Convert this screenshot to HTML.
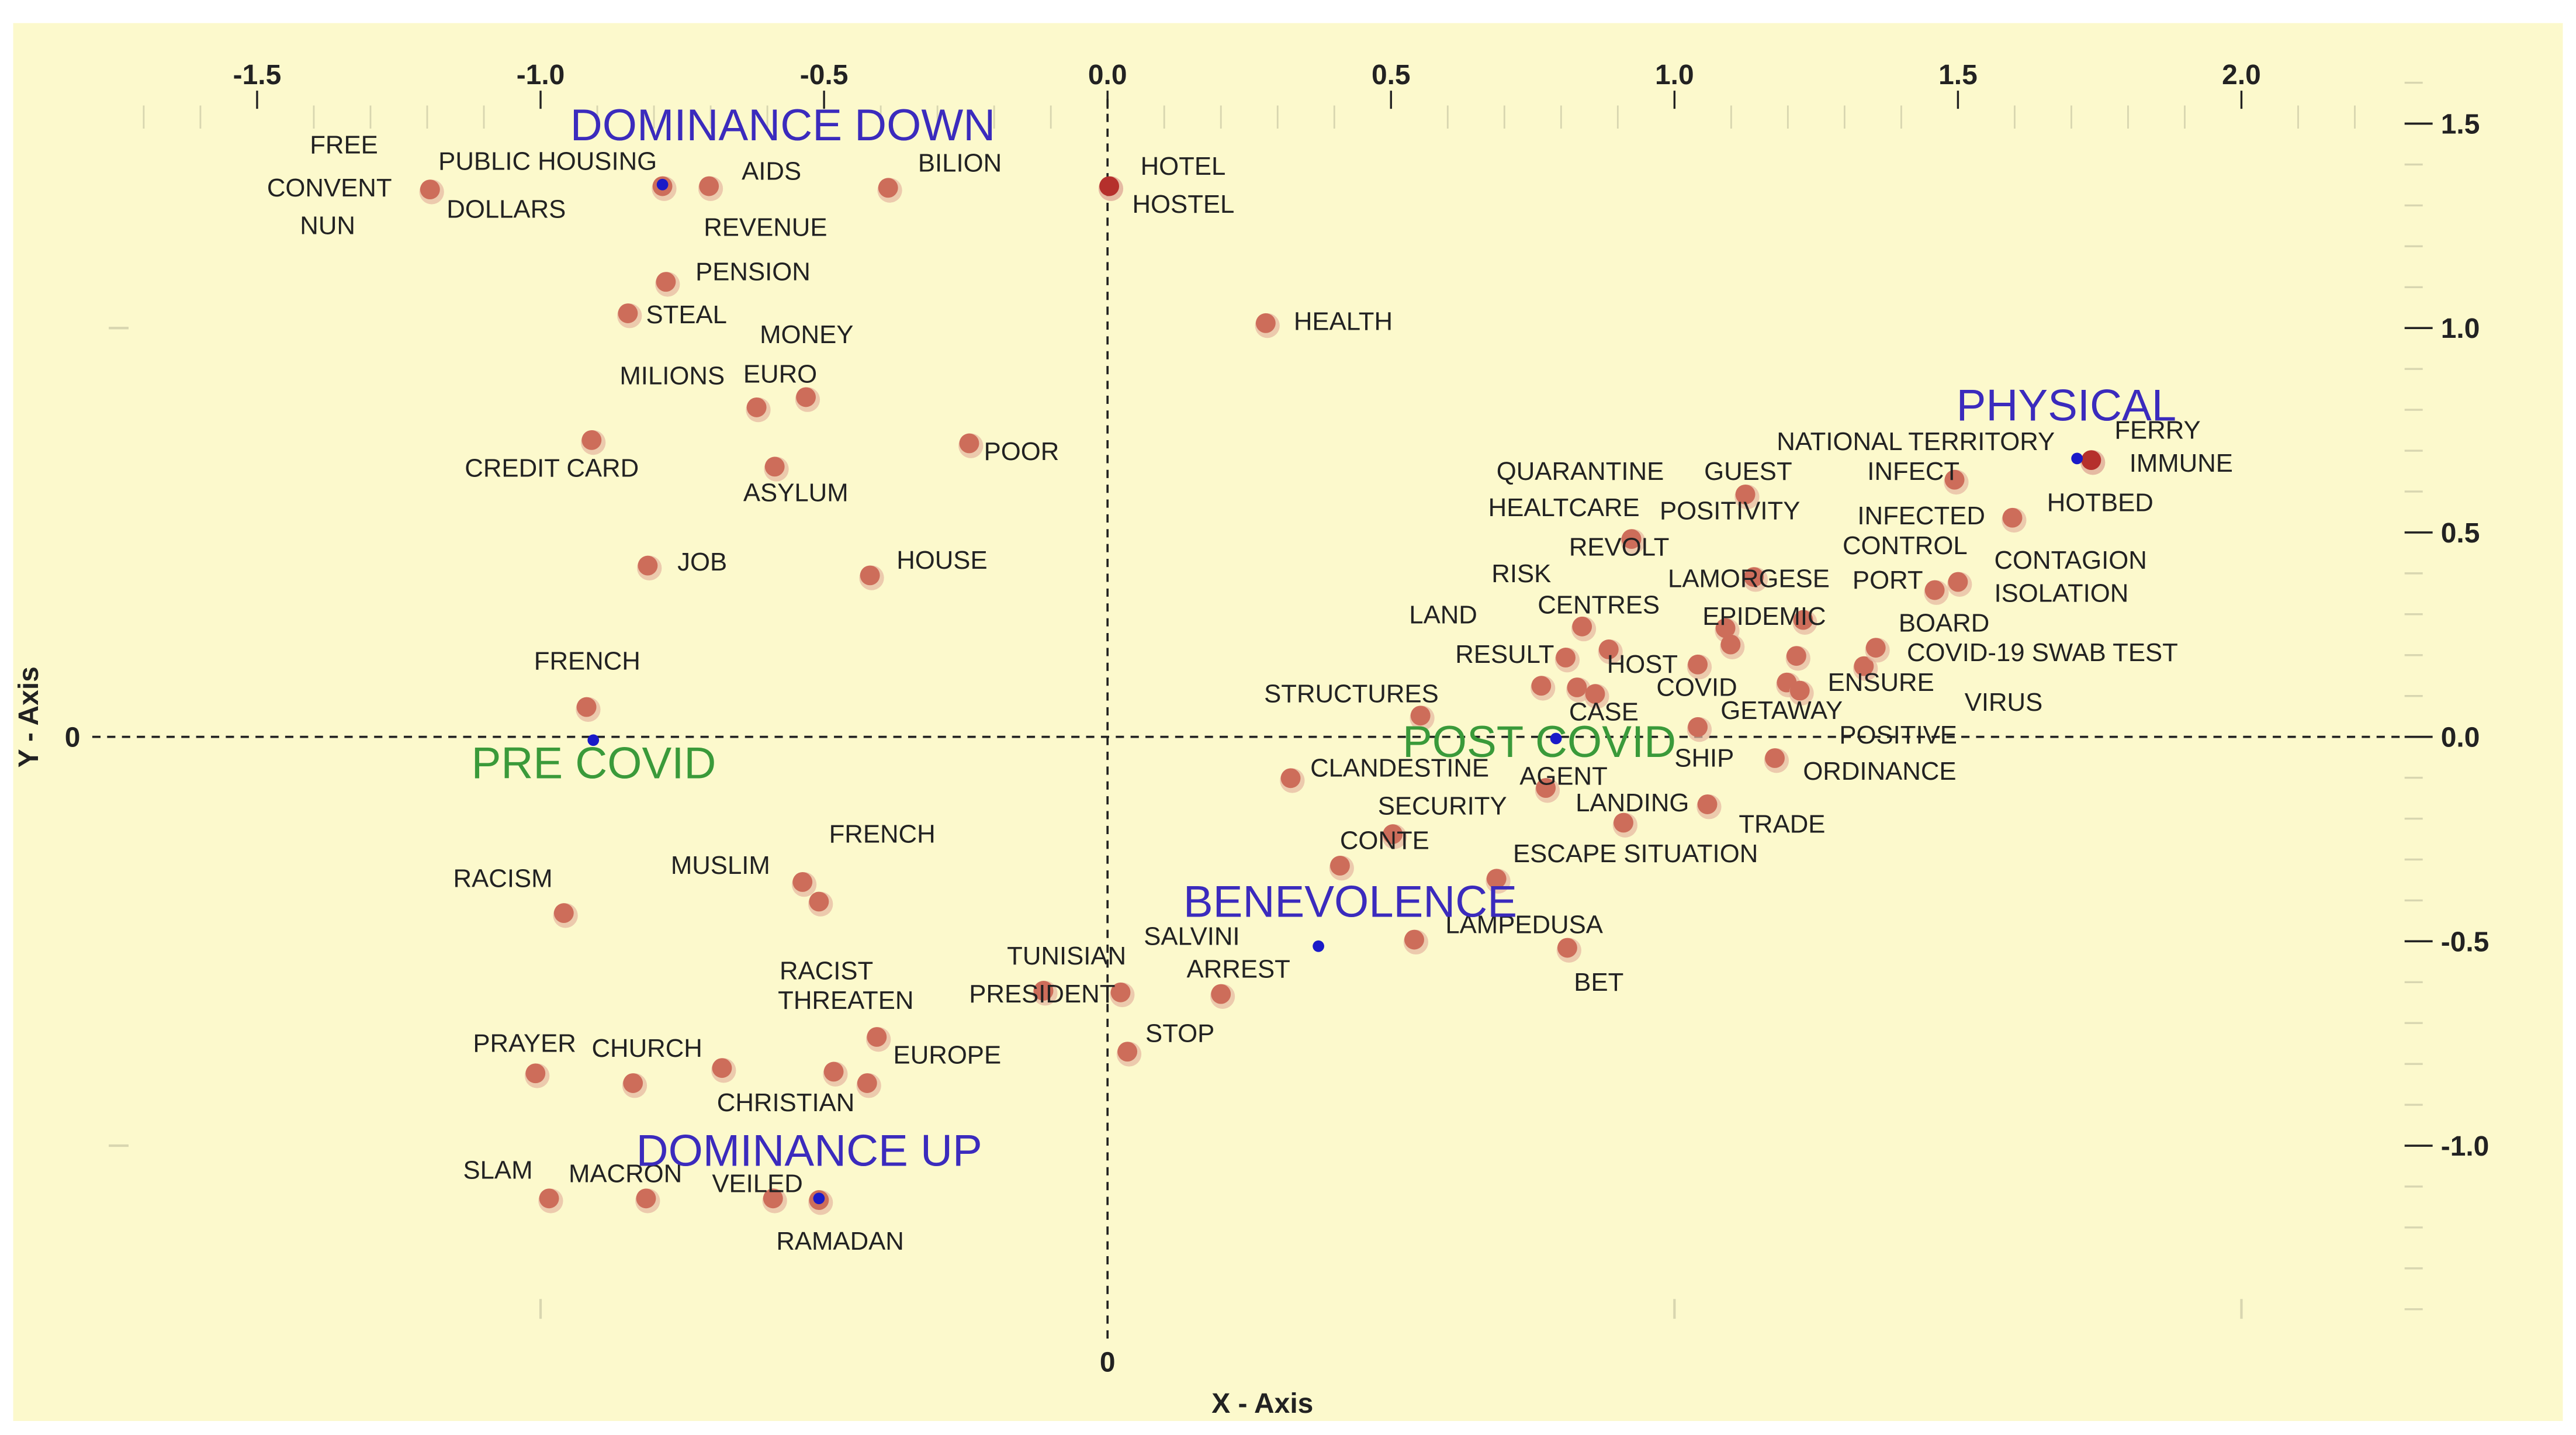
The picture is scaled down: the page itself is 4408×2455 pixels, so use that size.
<!DOCTYPE html>
<html><head><meta charset="utf-8"><style>
html,body{margin:0;padding:0;background:#fff;}
svg{display:block;}
text{font-family:"Liberation Sans",sans-serif;}
</style></head><body>
<svg id="chart" width="4408" height="2455" viewBox="0 0 1563 870.5" xmlns="http://www.w3.org/2000/svg">
<rect x="8" y="14" width="1547" height="848" fill="#fcf9cc"/>
<g id="axes"></g>
<g id="marks"></g>
<g id="labels"></g>
</svg>
<script>
const xTicks=[-1.5,-1.0,-0.5,0.0,0.5,1.0,1.5,2.0];
const xTickLabels=["-1.5","-1.0","-0.5","0.0","0.5","1.0","1.5","2.0"];
const yTicks=[1.5,1.0,0.5,0.0,-0.5,-1.0];
const yTickLabels=["1.5","1.0","0.5","0.0","-0.5","-1.0"];
const pointX=[-1.195,-0.785,-0.703,-0.387,0.003,-0.779,-0.846,-0.619,-0.532,-0.91,-0.587,-0.244,-0.811,-0.419,0.279,-0.919,-0.959,-0.538,-0.509,-0.407,-0.483,-0.424,-1.009,-0.837,-0.68,-0.985,-0.814,-0.59,-0.509,-0.113,0.023,0.035,0.2,0.541,0.811,0.686,0.41,0.503,0.323,0.773,0.91,1.058,1.177,1.041,0.552,0.828,0.86,0.765,0.808,0.884,0.837,0.924,1.125,1.041,1.09,1.099,1.14,1.198,1.221,1.215,1.227,1.334,1.355,1.459,1.5,1.494,1.596,1.735];
const pointY=[1.339,1.347,1.347,1.343,1.347,1.113,1.036,0.806,0.831,0.726,0.661,0.718,0.419,0.395,1.012,0.073,-0.431,-0.355,-0.403,-0.734,-0.819,-0.847,-0.823,-0.847,-0.81,-1.129,-1.129,-1.129,-1.133,-0.621,-0.625,-0.77,-0.629,-0.496,-0.516,-0.347,-0.315,-0.238,-0.101,-0.125,-0.21,-0.165,-0.052,0.024,0.052,0.121,0.105,0.125,0.194,0.214,0.27,0.484,0.593,0.177,0.266,0.226,0.391,0.133,0.113,0.198,0.286,0.173,0.218,0.359,0.379,0.629,0.536,0.677];
const darkPoints=[4,67];
const centroidNames=["DOMINANCE DOWN","PRE COVID","DOMINANCE UP","BENEVOLENCE","POST COVID","PHYSICAL"];
const centroidX=[-0.785,-0.907,-0.509,0.372,0.791,1.71];
const centroidY=[1.351,-0.008,-1.129,-0.512,-0.004,0.681];
const wordLabels=[["FREE",188,89],["CONVENT",162,115],["NUN",182,138],["PUBLIC HOUSING",266,99],["DOLLARS",271,128],["AIDS",450,105],["REVENUE",427,139],["BILION",557,100],["HOTEL",692,102],["HOSTEL",687,125],["PENSION",422,166],["STEAL",392,192],["MONEY",461,204],["EURO",451,228],["MILIONS",376,229],["CREDIT CARD",282,285],["ASYLUM",451,300],["POOR",597,275],["JOB",411,342],["HOUSE",544,341],["HEALTH",785,196],["FRENCH",324,402],["RACISM",275,534],["MUSLIM",407,526],["FRENCH",503,507],["RACIST",473,590],["THREATEN",472,608],["EUROPE",542,641],["CHRISTIAN",435,670],["PRAYER",287,634],["CHURCH",359,637],["SLAM",281,711],["MACRON",345,713],["VEILED",432,719],["RAMADAN",471,754],["TUNISIAN",611,581],["PRESIDENT",588,604],["SALVINI",694,569],["STOP",695,628],["ARREST",720,589],["LAMPEDUSA",877,562],["BET",955,597],["ESCAPE SITUATION",918,519],["CONTE",813,511],["SECURITY",836,490],["CLANDESTINE",795,467],["AGENT",922,472],["LANDING",956,488],["TRADE",1055,501],["ORDINANCE",1094,469],["SHIP",1016,461],["STRUCTURES",767,422],["CASE",952,433],["RESULT",883,398],["LAND",855,374],["HOST",975,404],["RISK",905,349],["CENTRES",933,368],["REVOLT",952,333],["QUARANTINE",908,287],["HEALTCARE",903,309],["GUEST",1034,287],["POSITIVITY",1007,311],["COVID",1005,418],["EPIDEMIC",1033,375],["LAMORGESE",1012,352],["GETAWAY",1044,432],["POSITIVE",1116,447],["ENSURE",1109,415],["BOARD",1152,379],["COVID-19 SWAB TEST",1157,397],["VIRUS",1192,427],["CONTROL",1118,332],["INFECTED",1127,314],["PORT",1124,353],["CONTAGION",1210,341],["ISOLATION",1210,361],["INFECT",1133,287],["NATIONAL TERRITORY",1078,269],["HOTBED",1242,306],["FERRY",1283,262],["IMMUNE",1292,282]];
const bigLabels=[["DOMINANCE DOWN",346,78,"#3b2bbd"],["PRE COVID",286,465,"#3a9a3a"],["DOMINANCE UP",386,700,"#3b2bbd"],["BENEVOLENCE",718,549,"#3b2bbd"],["POST COVID",851,452,"#3a9a3a"],["PHYSICAL",1187,248,"#3b2bbd"]];

const NS="http://www.w3.org/2000/svg";
function sx(v){return 672+344*v;}
function sy(v){return 447-248*v;}
function mk(tag,attrs,parent){const e=document.createElementNS(NS,tag);for(const k in attrs)e.setAttribute(k,attrs[k]);parent.appendChild(e);return e;}
const axes=document.getElementById('axes'),marks=document.getElementById('marks'),labels=document.getElementById('labels');

// minor ticks top and right
for(let i=-17;i<=22;i++){const v=i/10;if(Math.abs(v*2-Math.round(v*2))<1e-6)continue;
 const t=mk('line',{x1:sx(v),x2:sx(v),y1:64,y2:78,stroke:'#d8d6b0','stroke-width':1},axes);
 }
for(let i=-14;i<=16;i++){const v=i/10;if(Math.abs(v*2-Math.round(v*2))<1e-6)continue;
 const t=mk('line',{x1:1459,x2:1470,y1:sy(v),y2:sy(v),stroke:'#d8d6b0','stroke-width':1.2},axes);
 }
xTicks.forEach((v,i)=>{
 const t=mk('line',{x1:sx(v),x2:sx(v),y1:55,y2:66,stroke:'#222','stroke-width':1.2},axes);
 
 const l=mk('text',{x:sx(v),y:51,'text-anchor':'middle','font-size':17,'font-weight':'bold',fill:'#222'},axes);
 l.textContent=xTickLabels[i];
 });
yTicks.forEach((v,i)=>{
 const t=mk('line',{x1:1459,x2:1476,y1:sy(v),y2:sy(v),stroke:'#222','stroke-width':1.3},axes);
 
 const l=mk('text',{x:1481,y:sy(v)+6,'font-size':17,'font-weight':'bold',fill:'#222'},axes);
 l.textContent=yTickLabels[i];
 });
// faint inner ticks
[-1,1,2].forEach(v=>{const t=mk('line',{x1:sx(v),x2:sx(v),y1:788,y2:800,stroke:'#d8d6b0','stroke-width':1.5},axes);
 });
[1,-1].forEach(v=>{const t=mk('line',{x1:66,x2:78,y1:sy(v),y2:sy(v),stroke:'#d8d6b0','stroke-width':1.5},axes);
 });
// dashed zero lines
let hz=mk('line',{x1:56,x2:1460,y1:sy(0),y2:sy(0),stroke:'#222','stroke-width':1.3,'stroke-dasharray':'5,4'},axes);

let vz=mk('line',{x1:sx(0),x2:sx(0),y1:60,y2:815,stroke:'#222','stroke-width':1.3,'stroke-dasharray':'5,4'},axes);

let z1=mk('text',{x:44,y:sy(0)+6,'text-anchor':'middle','font-size':17,'font-weight':'bold',fill:'#222'},axes);z1.textContent='0';

let z2=mk('text',{x:sx(0),y:832,'text-anchor':'middle','font-size':17,'font-weight':'bold',fill:'#222'},axes);z2.textContent='0';

let xt=mk('text',{x:766,y:857,'text-anchor':'middle','font-size':17,'font-weight':'bold',fill:'#222'},axes);xt.textContent='X - Axis';

let yt=mk('text',{x:0,y:0,'text-anchor':'middle','font-size':17,'font-weight':'bold',fill:'#222',transform:'translate(23,435) rotate(-90)'},axes);yt.textContent='Y - Axis';


// points
pointX.forEach((v,i)=>{
 const dark=darkPoints.indexOf(i)>=0;
 const h=mk('circle',{cx:sx(v)+1,cy:sy(pointY[i])+1.5,r:7.5,fill:dark?'#dca090':'#e6b79f',opacity:0.7},marks);
 
 const c=mk('circle',{cx:sx(v),cy:sy(pointY[i]),r:6,fill:dark?'#b5302c':'#cd6d5a'},marks);
 });
centroidX.forEach((v,i)=>{
 const c=mk('circle',{cx:sx(v),cy:sy(centroidY[i]),r:3.5,fill:'#1a1ac8'},marks);
 });
// labels
wordLabels.forEach(w=>{
 const t=mk('text',{x:w[1],y:w[2],'dominant-baseline':'middle','font-size':15.5,fill:'#222'},labels);
 t.textContent=w[0];
 });
bigLabels.forEach(w=>{
 const t=mk('text',{x:w[1],y:w[2],'dominant-baseline':'middle','font-size':27,fill:w[3]},labels);
 t.textContent=w[0];
 });
</script>
</body></html>
